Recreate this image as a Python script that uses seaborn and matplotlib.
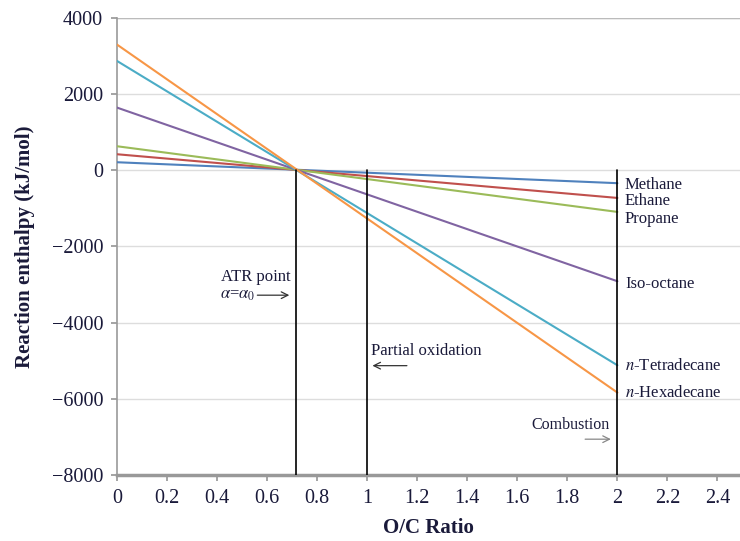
import matplotlib
matplotlib.use("Agg")
import matplotlib.pyplot as plt
import seaborn as sns
import pandas as pd

# O/C ratio end points and reaction enthalpy (kJ/mol) for each fuel
oc_ratio = [0.0, 2.0]
methane = [210, -340]
ethane = [420, -727]
propane = [630, -1094]
iso_octane = [1645, -2914]
n_tetradecane = [2870, -5119]
n_hexadecane = [3300, -5836]

fuels = ["Methane", "Ethane", "Propane", "Iso-octane", "n-Tetradecane", "n-Hexadecane"]
fuel_labels = ["Methane", "Ethane", "Propane", "Iso-octane",
               r"$\mathit{n}$-Tetradecane", r"$\mathit{n}$-Hexadecane"]
series = [methane, ethane, propane, iso_octane, n_tetradecane, n_hexadecane]
colors = ["#4F81BD", "#C0504D", "#9BBB59", "#8064A2", "#4BACC6", "#F79646"]
label_y = [-380, -800, -1270, -2980, -5150, -5850]

# regime boundaries on the O/C axis
atr_point = 0.715
partial_ox = 1.0
combustion = 2.0

rows = []
for name, vals in zip(fuels, series):
    for x, y in zip(oc_ratio, vals):
        rows.append({"O/C": x, "dH": y, "fuel": name})
df = pd.DataFrame(rows)

sns.set_theme(style="white")
plt.rcParams["font.family"] = ["Liberation Serif", "DejaVu Serif"]
plt.rcParams["mathtext.fontset"] = "stix"

fig = plt.figure(figsize=(7.4, 5.41), dpi=100)
ax = fig.add_axes([0.158, 0.122, 0.842, 0.845])

ax.set_xlim(0, 2.49)
ax.set_ylim(-8000, 4000)
ax.set_yticks(range(-8000, 4001, 2000))
ax.set_xticks([0, 0.2, 0.4, 0.6, 0.8, 1, 1.2, 1.4, 1.6, 1.8, 2, 2.2, 2.4])
ax.set_xticklabels(["0", "0.2", "0.4", "0.6", "0.8", "1", "1.2", "1.4", "1.6",
                    "1.8", "2", "2.2", "2.4"])
ax.set_yticklabels(["\u22128000", "\u22126000", "\u22124000", "\u22122000", "0",
                    "2000", "4000"])
ax.grid(axis="y", color="#DDDDDD", linewidth=1.0)
ax.set_axisbelow(True)

sns.lineplot(data=df, x="O/C", y="dH", hue="fuel", hue_order=fuels,
             palette=colors, linewidth=1.5, legend=False, ax=ax, zorder=3)

for xv in (atr_point, partial_ox, combustion):
    ax.plot([xv, xv], [0, -8000], color="black", linewidth=1.2, zorder=4)

text_color = "#1A1A3A"
for lab, yv in zip(fuel_labels, label_y):
    ax.text(2.03, yv, lab, fontsize=12, color=text_color, va="center", ha="left")

ax.text(0.695, -2800, "ATR point", fontsize=12, color=text_color, ha="right", va="center")
ax.text(0.41, -3280, r"$\alpha$=$\alpha_0$", fontsize=12, color=text_color, ha="left", va="center")
ax.annotate("", xy=(0.7, -3280), xytext=(0.55, -3280),
            arrowprops=dict(arrowstyle="->", color="#333333", lw=0.9))
ax.text(1.015, -4750, "Partial oxidation", fontsize=12, color=text_color, ha="left", va="center")
ax.annotate("", xy=(1.01, -5130), xytext=(1.17, -5130),
            arrowprops=dict(arrowstyle="->", color="#333333", lw=0.9))
ax.text(1.97, -6700, "Combustion", fontsize=11.5, color=text_color, ha="right", va="center")
ax.annotate("", xy=(1.985, -7060), xytext=(1.86, -7060),
            arrowprops=dict(arrowstyle="->", color="#888888", lw=0.9))

for side in ("top", "right"):
    ax.spines[side].set_visible(False)
ax.spines["left"].set_color("#999999")
ax.spines["left"].set_linewidth(1.2)
ax.spines["bottom"].set_color("#999999")
ax.spines["bottom"].set_linewidth(2.5)
ax.axhline(4000, color="#BBBBBB", linewidth=1.0)

ax.tick_params(axis="both", labelsize=14.5, colors=text_color, length=4,
               direction="out", bottom=True, left=True)
ax.tick_params(axis="x", pad=6)
ax.tick_params(axis="y", pad=6)
ax.tick_params(axis="both", color="#999999")

ax.set_xlabel("O/C Ratio", fontsize=15, fontweight="bold", color=text_color, labelpad=7)
ax.set_ylabel("Reaction enthalpy (kJ/mol)", fontsize=15, fontweight="bold",
              color=text_color, labelpad=12)

fig.savefig("out.png", dpi=100)
